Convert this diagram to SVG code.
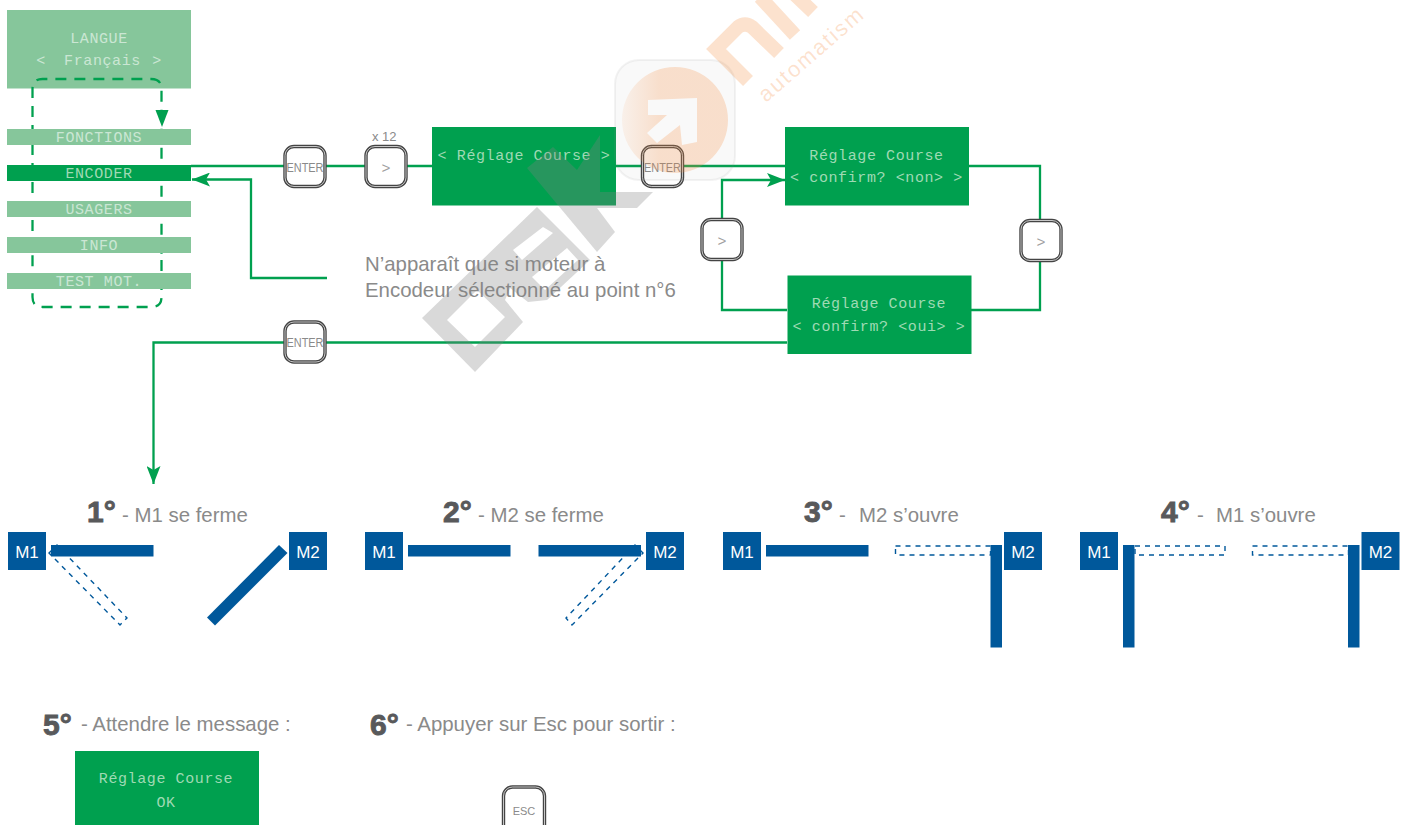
<svg xmlns="http://www.w3.org/2000/svg" width="1405" height="825" viewBox="0 0 1405 825">
<style>
text{font-family:"Liberation Sans",Arial,sans-serif;white-space:pre}
.lcd{font-family:"Liberation Mono","DejaVu Sans Mono",monospace;font-size:15px;letter-spacing:.6px;text-anchor:middle;fill:#9fdab4}
.lcdf{fill:#cbe6d4}
.pale{fill:#86c69b}
.dark{fill:#00a04f}
.wire{fill:none;stroke:#00a04f;stroke-width:2.300}
.btn{fill:#fff;stroke:#444;stroke-width:3.400}
.btnin{fill:none;stroke:#fff;stroke-width:.7}
.bt{font-size:12px;fill:#8a8a8a;text-anchor:middle}
.gt{font-family:"Liberation Mono",monospace;font-size:15px;fill:#a0a0a0;text-anchor:middle}
.lab{font-size:20.400px;fill:#8a8a8a}
.num{font-size:30px;font-weight:bold;fill:#58595b;stroke:#58595b;stroke-width:.9}
.mot{fill:#00589b}
.mt{font-size:17px;fill:#fff;text-anchor:middle}
.ghost{fill:none;stroke:#00589b;stroke-width:1.400;stroke-dasharray:5 5}
</style>
<defs>
<marker id="ah" markerUnits="userSpaceOnUse" markerWidth="18" markerHeight="14" refX="18" refY="7" orient="auto"><path d="M0 0L18 7L0 14L4 7Z" fill="#00a04f"/></marker>
<linearGradient id="og" x1="0" x2="1" y1="0" y2="0"><stop offset="0" stop-color="#f58a3c" stop-opacity=".08"/><stop offset=".35" stop-color="#f58a3c" stop-opacity=".24"/></linearGradient>
<rect id="b" width="40" height="40" rx="9"/>
</defs>

<g id="menu-loop"><rect id="lang-bg" x="7" y="10" width="184" height="78.500" class="pale"/></g>
<path class="wire" d="M32.500 250V89Q32.500 79 42.500 79H151Q161.500 79 161.500 89V260M161.500 260V297Q161.500 307 151.500 307H42.500Q32.500 307 32.500 297V250" stroke-dasharray="11 8"/>
<path d="M155.500 110H168.500L162 127Z" fill="#00a04f"/>

<g id="connectors">
<path class="wire" d="M191 166H785"/>
<path class="wire" d="M968 166H1040V310H971"/>
<path class="wire" d="M787 310H722V180H785" marker-end="url(#ah)"/>
<path class="wire" d="M787 342.500H153.500V484" marker-end="url(#ah)"/>
<path class="wire" d="M327 278H251V179.500H192" marker-end="url(#ah)"/>
</g>

<g id="langue"><text class="lcd lcdf" y="43" x="99">LANGUE</text><text class="lcd lcdf" y="65"><tspan x="41">&lt;</tspan><tspan x="102.500">Français</tspan><tspan x="157">&gt;</tspan></text></g>
<g id="fonctions"><rect x="7" y="129" width="184" height="16" class="pale"/><text class="lcd lcdf" x="99" y="142">FONCTIONS</text></g>
<g id="encoder"><rect x="7" y="165" width="184" height="16" class="dark"/><text class="lcd" x="99" y="178">ENCODER</text></g>
<g id="usagers"><rect x="7" y="201" width="184" height="16" class="pale"/><text class="lcd lcdf" x="99" y="214">USAGERS</text></g>
<g id="info"><rect x="7" y="237" width="184" height="16" class="pale"/><text class="lcd lcdf" x="99" y="250">INFO</text></g>
<g id="test-mot"><rect x="7" y="273" width="184" height="16" class="pale"/><text class="lcd lcdf" x="99" y="286">TEST MOT.</text></g>

<g id="btn-enter1"><use href="#b" x="285" y="146.500" class="btn"/><use href="#b" x="285" y="146.500" class="btnin"/><text class="bt" x="305" y="172" textLength="37" lengthAdjust="spacingAndGlyphs">ENTER</text></g>
<g id="btn-next12"><use href="#b" x="366" y="146.500" class="btn"/><use href="#b" x="366" y="146.500" class="btnin"/><text class="gt" x="386" y="173">&gt;</text><text x="372" y="141" font-size="13" fill="#8a8a8a">x 12</text></g>
<g id="box-reglage"><rect x="432" y="127" width="184" height="78.500" class="dark"/><text class="lcd" x="524" y="160">&lt; Réglage Course &gt;</text></g>
<g id="btn-enter2"><use href="#b" x="642.500" y="146.500" class="btn"/><use href="#b" x="642.500" y="146.500" class="btnin"/><text class="bt" x="662.500" y="172" textLength="37" lengthAdjust="spacingAndGlyphs">ENTER</text></g>
<g id="box-non"><rect x="785" y="127" width="184" height="78.500" class="dark"/><text class="lcd" x="876.500" y="160">Réglage Course</text><text class="lcd" x="876.500" y="182">&lt; confirm? &lt;non&gt; &gt;</text></g>
<g id="box-oui"><rect x="787.500" y="275.500" width="184" height="78.500" class="dark"/><text class="lcd" x="879" y="308">Réglage Course</text><text class="lcd" x="879" y="331">&lt; confirm? &lt;oui&gt; &gt;</text></g>
<g id="btn-next-r"><use href="#b" x="1021" y="220.500" class="btn"/><use href="#b" x="1021" y="220.500" class="btnin"/><text class="gt" x="1041" y="247">&gt;</text></g>
<g id="btn-next-l"><use href="#b" x="702" y="219.500" class="btn"/><use href="#b" x="702" y="219.500" class="btnin"/><text class="gt" x="722" y="246">&gt;</text></g>
<g id="btn-enter3"><use href="#b" x="285" y="322" class="btn"/><use href="#b" x="285" y="322" class="btnin"/><text class="bt" x="305" y="347" textLength="37" lengthAdjust="spacingAndGlyphs">ENTER</text></g>

<g id="note"><text class="lab" x="365" y="270.500">N’apparaît que si moteur à</text><text class="lab" x="365" y="296.500">Encodeur sélectionné au point n°6</text></g>

<g id="step1"><text class="num" x="87" y="522">1°</text><text class="lab" x="122" y="522">- M1 se ferme</text>
<path class="ghost" d="M49 553L57 545L127 618L120 625Z"/>
<rect class="mot" x="8" y="532" width="38" height="38"/><text class="mt" x="27" y="558">M1</text>
<rect class="mot" x="289" y="532" width="38" height="38"/><text class="mt" x="308" y="558">M2</text>
<rect class="mot" x="51" y="545" width="102.500" height="11.500"/>
<path class="mot" d="M279 545L287.500 553L215 625.500L207 617.500Z"/></g>

<g id="step2"><text class="num" x="443" y="522">2°</text><text class="lab" x="478" y="522">- M2 se ferme</text>
<path class="ghost" d="M643 553L635 545L566 618L572 625Z"/>
<rect class="mot" x="365" y="532" width="38" height="38"/><text class="mt" x="384" y="558">M1</text>
<rect class="mot" x="646" y="532" width="38" height="38"/><text class="mt" x="665" y="558">M2</text>
<rect class="mot" x="408" y="545" width="102.500" height="11.500"/>
<rect class="mot" x="538.500" y="545" width="102.500" height="11.500"/></g>

<g id="step3"><text class="num" x="804" y="522">3°</text><text class="lab" x="839" y="522">-</text><text class="lab" x="859" y="522">M2 s’ouvre</text>
<rect class="ghost" x="895.500" y="546" width="95" height="9"/>
<rect class="mot" x="723" y="532" width="38" height="38"/><text class="mt" x="742" y="558">M1</text>
<rect class="mot" x="1004" y="532" width="38" height="38"/><text class="mt" x="1023" y="558">M2</text>
<rect class="mot" x="766" y="545" width="102.500" height="11.500"/>
<rect class="mot" x="990.500" y="545" width="11.500" height="102.500"/></g>

<g id="step4"><text class="num" x="1161" y="522">4°</text><text class="lab" x="1197" y="522">-</text><text class="lab" x="1216" y="522">M1 s’ouvre</text>
<rect class="ghost" x="1135" y="546" width="90" height="9"/>
<rect class="ghost" x="1252.500" y="546" width="96" height="9"/>
<rect class="mot" x="1080" y="532" width="38" height="38"/><text class="mt" x="1099" y="558">M1</text>
<rect class="mot" x="1361.500" y="532" width="38" height="38"/><text class="mt" x="1380.500" y="558">M2</text>
<rect class="mot" x="1123" y="545" width="11.500" height="102.500"/>
<rect class="mot" x="1348" y="545" width="11.500" height="102.500"/></g>

<g id="step5"><text class="num" x="43" y="735">5°</text><text class="lab" x="81" y="731">- Attendre le message :</text>
<rect x="75" y="751" width="184" height="74" class="dark"/><text class="lcd" x="166" y="783">Réglage Course</text><text class="lcd" x="166" y="807">OK</text></g>

<g id="step6"><text class="num" x="370" y="735">6°</text><text class="lab" x="406" y="731">- Appuyer sur Esc pour sortir :</text>
<rect class="btn" x="503.500" y="787" width="41" height="48" rx="9"/><rect class="btnin" x="503.500" y="787" width="41" height="48" rx="9"/><text x="524" y="815" font-size="11" fill="#8a8a8a" text-anchor="middle">ESC</text></g>

<g id="watermark">
<path fill="#808080" fill-opacity=".3" d="M527 168L553 147L577 170L600 135V192L653 192L637 208L597 208L615 232L597 252Z"/>
<path fill="#808080" fill-opacity=".3" fill-rule="evenodd" d="M422 318L537 207L590 260L547 300L528 302L510 288L505 300L523 322L475 372ZM447 320L477 290L505 317L475 347ZM513 250L543 227L553 233L522 260ZM532 277L567 248L578 260L545 290Z"/>
<rect x="615" y="60" width="120" height="120" rx="24" fill="#888" fill-opacity=".05" stroke="#888" stroke-opacity=".1" stroke-width="2"/>
<path fill="url(#og)" fill-rule="evenodd" d="M622 120a53 53 0 1 0 106 0a53 53 0 1 0 -106 0ZM648 100L697 98V142L682 145L680 125L657 143L647 133L667 115H648Z"/>
<path fill="none" stroke="#f58a3c" stroke-opacity=".25" stroke-width="14" d="M748 81L716 49L738 27Q745 22 752 27L779 53M760 -3L795 35M790 -10L813 12"/>
<text x="766" y="103" transform="rotate(-41 766 103)" font-size="22" letter-spacing="1.900" fill="#f58a3c" fill-opacity=".25">automatism</text>
</g>
</svg>
